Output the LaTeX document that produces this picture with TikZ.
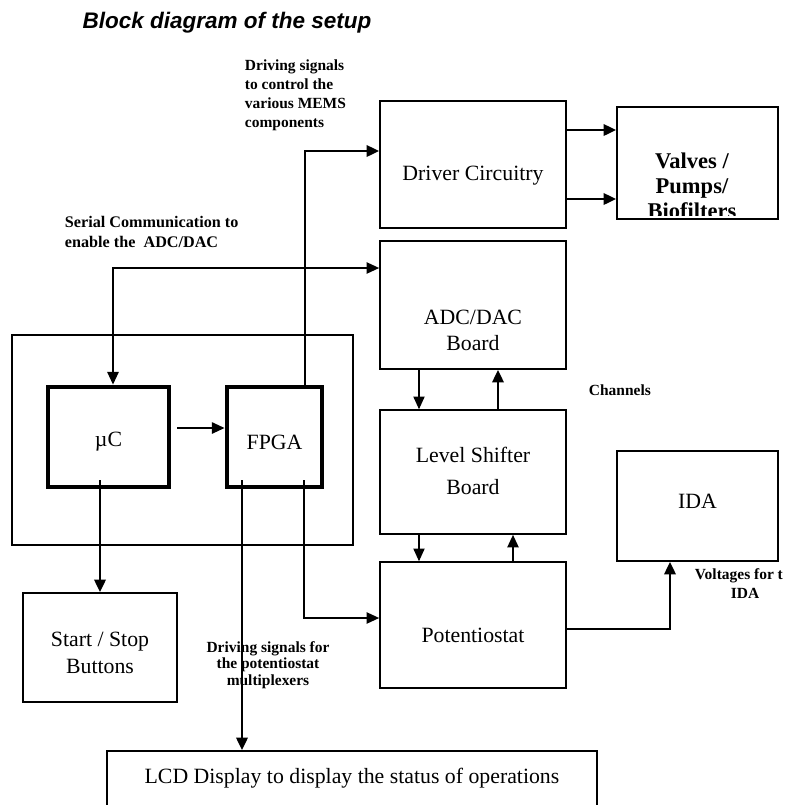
\documentclass[tikz,border=0pt]{standalone}
\usepackage{fontspec}
\setmainfont{Liberation Serif}
\newfontfamily\headfont{Liberation Sans}
\usetikzlibrary{arrows.meta}

\begin{document}
\begin{tikzpicture}[x=0.025cm,y=-0.025cm,line width=.8pt,
  >={Triangle[length=9pt,width=8pt]},
  box/.style={draw,line width=1.1pt,inner sep=0pt},
  chip/.style={draw,line width=3.4pt,inner sep=0pt},
  heavy/.style={line width=2pt},
  medium/.style={line width=1.3pt},
  lbl/.style={align=center,inner sep=1pt,font=\fontsize{15.5}{19}\selectfont},
  note/.style={inner sep=1pt,font=\fontsize{11}{13}\selectfont\bfseries}]
\useasboundingbox (0,0) rectangle (786,805);
\node[anchor=west,inner sep=0pt,font=\headfont\fontsize{16}{19}\selectfont\bfseries\itshape] (title) at (82,23) {Block diagram of the setup};
% boxes
\node[box,minimum width=4.65cm,minimum height=3.175cm] (drv) at (473,164.5) {};
\node[box,minimum width=4.025cm,minimum height=2.8cm] (valves) at (697.5,163) {};
\node[box,minimum width=4.65cm,minimum height=3.2cm] (adc) at (473,305) {};
\node[box,minimum width=4.65cm,minimum height=3.1cm] (lvl) at (473,472) {};
\node[box,minimum width=4.65cm,minimum height=3.15cm] (pot) at (473,625) {};
\node[box,minimum width=4.025cm,minimum height=2.75cm] (ida) at (697.5,506) {};
\node[draw,inner sep=0pt,minimum width=8.525cm,minimum height=5.25cm] (ctrl) at (182.5,440) {};
\node[chip,minimum width=3.025cm,minimum height=2.5cm] (uc) at (108.5,437) {};
\node[chip,minimum width=2.375cm,minimum height=2.5cm] (fpga) at (274.5,437) {};
\node[box,minimum width=3.85cm,minimum height=2.725cm] (start) at (100,647.5) {};
\node[box,minimum width=12.25cm,minimum height=1.5cm] (lcd) at (352,781) {};
% box texts
\node[lbl] (drvtxt) at (473,176) {Driver Circuitry};
\begin{scope}
\clip (valves.north west) rectangle ([yshift=0.11cm]valves.south east);
\node[lbl,font=\fontsize{16}{17.8}\selectfont\bfseries] (valvestxt) at (692,186) {Valves /\\Pumps/\\Biofilters};
\end{scope}
\node[lbl,font=\fontsize{15.5}{18.5}\selectfont] (adctxt) at (473,330) {ADC/DAC\\Board};
\node[lbl,font=\fontsize{15.5}{22.5}\selectfont] (lvltxt) at (473,471) {Level Shifter\\Board};
\node[lbl] (pottxt) at (473,635) {Potentiostat};
\node[lbl] (idatxt) at (697.5,501) {IDA};
\node[lbl] (uctxt) at (108.5,442) {µC};
\node[lbl] (fpgatxt) at (274.5,442) {FPGA};
\node[lbl,font=\fontsize{15.5}{19.5}\selectfont] (starttxt) at (100,653) {Start / Stop\\Buttons};
\node[lbl] (lcdtxt) at (352,778) {LCD Display to display the status of operations};
% notes
\node[note,anchor=west,align=left,font=\fontsize{11}{13.5}\selectfont\bfseries] (drvnote) at (243,95) {Driving signals\\to control the\\various MEMS\\components};
\node[note,anchor=west,align=left,font=\fontsize{11.5}{14.2}\selectfont\bfseries] (sernote) at (63,232) {Serial Communication to\\enable the~~ADC/DAC};
\node[note,anchor=west] (channote) at (587,390) {Channels};
\node[note,align=center,font=\fontsize{11}{11.7}\selectfont\bfseries] (potnote) at (268,665) {Driving signals for\\the potentiostat\\multiplexers};
\node[note,anchor=west] (idanote) at (693,576) {Voltages for t};
\node[note] (idanote2) at (745,593) {IDA};
% connectors
\coordinate (j) at (305,268);
\coordinate (k) at (305,151);
\coordinate (s) at (113,268);
\coordinate (m) at (177,428);
\coordinate (ub) at (100,480);
\coordinate (f1) at (242,480);
\coordinate (f2) at (304,480);
\coordinate (f3) at (304,618);
\coordinate (v1) at (0,130);
\coordinate (v2) at (0,199);
\coordinate (c1) at (419,0);
\coordinate (c2) at (498,0);
\coordinate (c3) at (513,0);
\coordinate (p1) at (670,629);
\draw (fpga.north -| j) -- (j);
\draw[heavy,->] (j) -- (k) -- (drv.west |- k);
\draw[medium,->] (j) -- (adc.west |- j);
\draw[medium,->] (j) -- (s) -- (uc.north -| s);
\draw[medium,->] (m) -- (fpga.west |- m);
\draw[heavy,->] (drv.east |- v1) -- (valves.west |- v1);
\draw[heavy,->] (drv.east |- v2) -- (valves.west |- v2);
\draw[->] (adc.south -| c1) -- (lvl.north -| c1);
\draw[heavy,->] (lvl.north -| c2) -- (adc.south -| c2);
\draw[->] (lvl.south -| c1) -- (pot.north -| c1);
\draw[medium,->] (pot.north -| c3) -- (lvl.south -| c3);
\draw[heavy,->] (pot.east |- p1) -| (ida.south -| p1);
\draw (ub) -- (ub |- ctrl.south);
\draw[heavy,->] (ub |- ctrl.south) -- (start.north);
\draw (f1) -- (f1 |- ctrl.south);
\draw[heavy,->] (f1 |- ctrl.south) -- (lcd.north -| f1);
\draw (f2) -- (f2 |- ctrl.south);
\draw[medium,->] (f2 |- ctrl.south) -- (f3) -- (pot.west |- f3);
\end{tikzpicture}
\end{document}
